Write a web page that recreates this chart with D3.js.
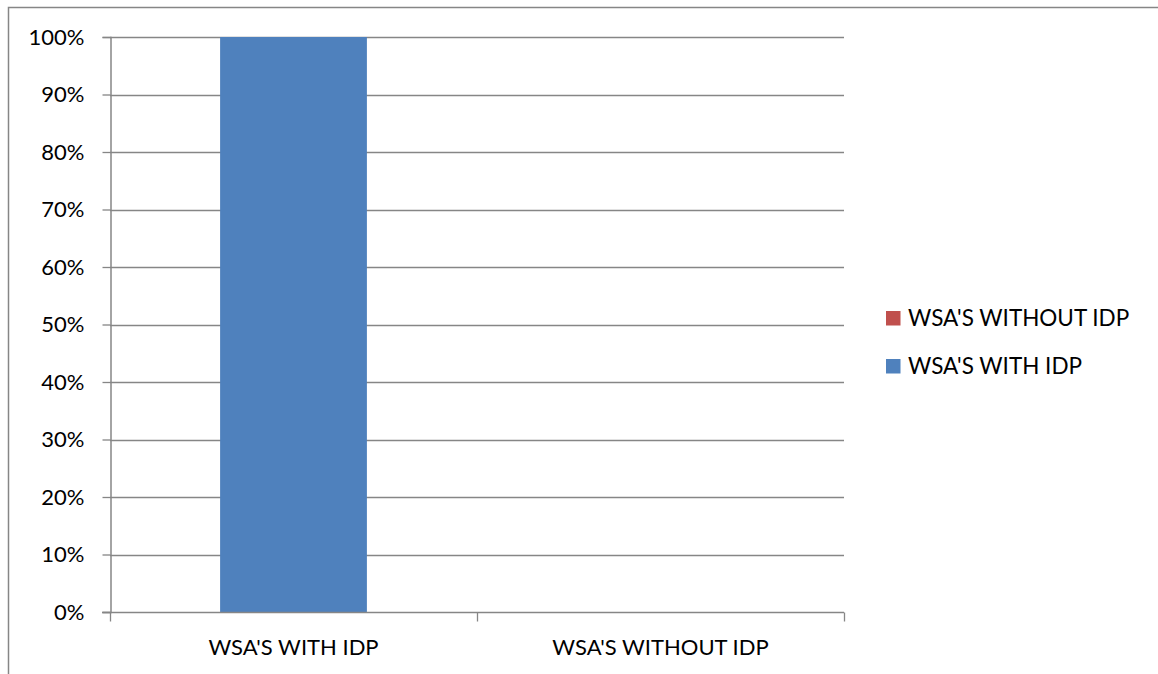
<!DOCTYPE html>
<html lang="en">
<head>
  <meta charset="UTF-8">
  <title>WSA's with IDP</title>
  <script src="https://d3js.org/d3.v7.min.js"></script>
  <style>
    body { margin: 0; background: #fff; }
    svg { display: block; font-family: Lato, "Open Sans", sans-serif; }
  </style>
</head>
<body>
<svg width="1158" height="674"></svg>
<script>
  // data (share of each category, in %)
  const categories = ["WSA'S WITH IDP", "WSA'S WITHOUT IDP"];
  const withIdp = [100, 0];
  const withoutIdp = [0, 0];
  const seriesNames = ["WSA'S WITH IDP", "WSA'S WITHOUT IDP"];
  const seriesColors = ["#4F81BD", "#C0504D"];
  const yTicks = [0, 10, 20, 30, 40, 50, 60, 70, 80, 90, 100];

  const svg = d3.select("svg");
  const grey = "#868686";

  // outer chart frame (runs off the right/bottom edge)
  svg.append("rect")
    .attr("x", 8.5).attr("y", 7.5)
    .attr("width", 1200).attr("height", 700)
    .attr("fill", "none").attr("stroke", grey).attr("stroke-width", 1.5);

  const plot = {left: 110, right: 844, top: 37, bottom: 612};

  const x = d3.scaleBand()
    .domain(categories)
    .range([plot.left, plot.right]);

  const y = d3.scaleLinear()
    .domain([0, 100])
    .range([plot.bottom, plot.top]);

  const g = svg.append("g");

  // gridlines
  g.selectAll(".grid")
    .data(yTicks.filter(t => t > 0))
    .join("line")
    .attr("x1", plot.left).attr("x2", plot.right)
    .attr("y1", d => Math.round(y(d)) + 0.5).attr("y2", d => Math.round(y(d)) + 0.5)
    .attr("stroke", grey).attr("stroke-width", 1.3);

  // stacked bars
  const rows = categories.map((c, i) => ({cat: c, [seriesNames[0]]: withIdp[i], [seriesNames[1]]: withoutIdp[i]}));
  const stacked = d3.stack().keys(seriesNames)(rows);
  const barW = x.bandwidth() * 0.4;

  g.selectAll(".series")
    .data(stacked)
    .join("g")
    .attr("fill", (d, i) => seriesColors[i])
    .selectAll("rect")
    .data(d => d)
    .join("rect")
    .attr("x", d => x(d.data.cat) + (x.bandwidth() - barW) / 2)
    .attr("width", barW)
    .attr("y", d => y(d[1]))
    .attr("height", d => y(d[0]) - y(d[1]));

  // y axis
  const yAxis = svg.append("g")
    .attr("transform", `translate(${plot.left + 0.5},0)`)
    .call(d3.axisLeft(y).tickValues(yTicks).tickSize(8).tickPadding(18).tickFormat(d => d + "%"))
    .attr("font-family", null)
    .attr("font-size", null);
  yAxis.select(".domain").attr("stroke", grey).attr("stroke-width", 1.5);
  yAxis.selectAll(".tick line").attr("stroke", grey).attr("stroke-width", 1.3);
  yAxis.selectAll(".tick text").attr("font-size", 22).attr("fill", "#000");

  // x axis: ticks at category boundaries
  const xAxisG = svg.append("g").attr("transform", `translate(0,${plot.bottom + 0.5})`);
  xAxisG.append("line")
    .attr("x1", plot.left - 8).attr("x2", plot.right)
    .attr("stroke", grey).attr("stroke-width", 1.5);
  const bounds = categories.map(c => x(c)).concat([x(categories[categories.length - 1]) + x.bandwidth()]);
  xAxisG.selectAll(".xtick")
    .data(bounds)
    .join("line")
    .attr("x1", d => Math.round(d) + 0.5).attr("x2", d => Math.round(d) + 0.5)
    .attr("y1", 0).attr("y2", 9)
    .attr("stroke", grey).attr("stroke-width", 1.3);
  xAxisG.selectAll(".xlabel")
    .data(categories)
    .join("text")
    .attr("x", d => x(d) + x.bandwidth() / 2)
    .attr("y", 42)
    .attr("text-anchor", "middle")
    .attr("font-size", 22)
    .text(d => d);

  // legend (reverse order like the original)
  const legend = svg.append("g");
  const legendItems = seriesNames.map((n, i) => ({name: n, color: seriesColors[i]})).reverse();
  legend.selectAll("g")
    .data(legendItems)
    .join("g")
    .attr("transform", (d, i) => `translate(886,${311 + i * 48})`)
    .each(function(d) {
      const item = d3.select(this);
      item.append("rect").attr("width", 14.5).attr("height", 14.5).attr("fill", d.color);
      item.append("text").attr("x", 22).attr("y", 15).attr("font-size", 22.5).text(d.name);
    });
</script>
</body>
</html>
